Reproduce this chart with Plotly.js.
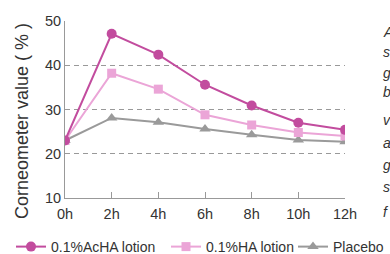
<!DOCTYPE html>
<html><head><meta charset="utf-8">
<script src="https://cdn.plot.ly/plotly-3.0.1.min.js"></script>
<style>html,body{margin:0;padding:0;background:#fff;}#c{width:390px;height:254px;}</style>
</head><body><div id="c"></div>
<script>
var hours = [0, 2, 4, 6, 8, 10, 12];
var tickLabels = ["0h", "2h", "4h", "6h", "8h", "10h", "12h"];
var achaValues = [23.0, 47.1, 42.4, 35.6, 30.9, 27.0, 25.4];
var haValues = [23.0, 38.2, 34.6, 28.8, 26.5, 24.8, 24.0];
var placeboValues = [23.0, 28.1, 27.1, 25.6, 24.3, 23.1, 22.7];
var seriesNames = ["0.1%AcHA lotion", "0.1%HA lotion", "Placebo"];
var yTitle = "Corneometer value ( % )";
var sideFragments = ["A", "s", "g", "b", "v", "a", "g", "s", "f"];
var sideFragmentY = [32, 52, 73, 92, 120, 143, 165, 187, 212];

var W = 390, H = 254;
var traces = [
  {x: hours, y: placeboValues, name: seriesNames[2], mode: "lines+markers", legend: "legend3",
   line: {color: "#9a9a9a", width: 2}, marker: {symbol: "triangle-up", size: 10, color: "#9a9a9a"}},
  {x: hours, y: haValues, name: seriesNames[1], mode: "lines+markers", legend: "legend2",
   line: {color: "#eba5d7", width: 2}, marker: {symbol: "square", size: 9, color: "#eba5d7"}},
  {x: hours, y: achaValues, name: seriesNames[0], mode: "lines+markers", legend: "legend",
   line: {color: "#c24c9e", width: 2}, marker: {symbol: "circle", size: 10, color: "#c24c9e"}}
];

function leg(px) {
  return {xref: "container", yref: "container", x: px / W, xanchor: "left",
    y: 1 - 247 / H, yanchor: "middle", orientation: "h", itemwidth: 30,
    font: {size: 14, color: "#333"}, bgcolor: "rgba(0,0,0,0)", borderwidth: 0};
}

var anns = sideFragments.map(function(t, i){
  return {text: t, xref: "paper", yref: "paper", x: (381 - 65) / 280, xanchor: "left",
    y: 1 - (sideFragmentY[i] - 21) / 177, yanchor: "middle", showarrow: false,
    font: {family: "Liberation Sans, Arial", size: 14, color: "#333", style: "italic"}};
});
anns.push({text: yTitle, textangle: -90, xref: "paper", yref: "paper",
  x: (22 - 65) / 280, xanchor: "center", y: 1 - (121 - 21) / 177, yanchor: "middle",
  showarrow: false, font: {size: 18, color: "#333"}});

var layout = {
  width: W, height: H,
  margin: {l: 65, r: 45, t: 21, b: 56, autoexpand: false},
  paper_bgcolor: "#fff", plot_bgcolor: "#fff",
  font: {family: "Liberation Sans, Arial, sans-serif", color: "#333"},
  showlegend: true,
  legend: leg(11), legend2: leg(166), legend3: leg(293),
  xaxis: {range: [0, 12], tickvals: hours, ticktext: tickLabels,
    showgrid: false, zeroline: false, showline: true, linecolor: "#999", linewidth: 1,
    ticks: "inside", ticklen: 6, tickcolor: "#999", tickfont: {size: 14.5, color: "#333"},
    ticklabelstandoff: 3, fixedrange: true},
  yaxis: {range: [10, 50], tickvals: [10, 20, 30, 40, 50], showgrid: true,
    gridcolor: "#999", griddash: "5px,4px", gridwidth: 1, zeroline: false,
    showline: true, linecolor: "#999", linewidth: 1, ticks: "", ticklen: 0,
    tickfont: {size: 14.5, color: "#333"}},
  annotations: anns
};
Plotly.newPlot("c", traces, layout, {staticPlot: true, displayModeBar: false});
</script></body></html>
